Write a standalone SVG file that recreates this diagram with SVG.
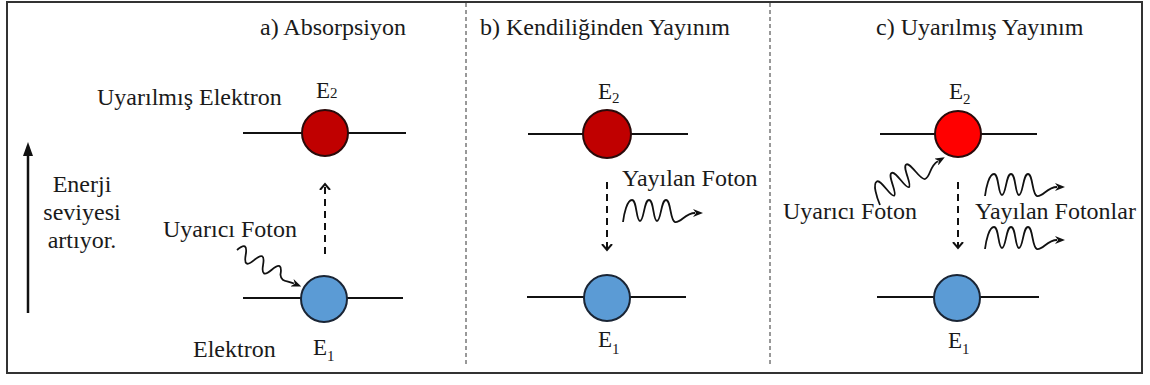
<svg xmlns="http://www.w3.org/2000/svg" xmlns:xlink="http://www.w3.org/1999/xlink" width="1150" height="385" viewBox="0 0 1150 385" font-family="'Liberation Serif', 'Times New Roman', 'DejaVu Serif', serif">
<style>
text{font-family:'Liberation Serif','Times New Roman','DejaVu Serif',serif;fill:#1a1a1a}
.t{font-size:24px}
.e{font-size:23px}
.s{font-size:15px}
.lvl{stroke:#111;stroke-width:2;fill:none}
.red{fill:#c00000;stroke:#2a0a0a;stroke-width:2}
.red2{fill:#ff0000;stroke:#2a0a0a;stroke-width:2}
.blue{fill:#5b9bd5;stroke:#1a2535;stroke-width:2}
.dash{stroke:#111;stroke-width:2;stroke-dasharray:7 5;fill:none;marker-end:url(#chev)}
.ph{stroke:#111;stroke-width:1.8;fill:none;marker-end:url(#ph)}
</style>
<defs>
<marker id="chev" viewBox="0 0 8 12" refX="6" refY="6" markerWidth="8" markerHeight="12" markerUnits="userSpaceOnUse" orient="auto">
<path d="M0,1 L6,6 L0,11" fill="none" stroke="#111" stroke-width="2" stroke-dasharray="none"/>
</marker>
<marker id="ph" viewBox="0 0 10 8" refX="2" refY="4" markerWidth="10" markerHeight="8" markerUnits="userSpaceOnUse" orient="auto">
<path d="M0,0 L10,4 L0,8 L3,4 z" fill="#111"/>
</marker>
<path id="wave" class="ph" d="M0,0 C1,-8 4,-22 9,-22 C14,-22 13,-1 17,-1 C21,-1 21,-22 26,-22 C31,-22 30,-1 34,-1 C38,-1 38,-22 43,-22 C48,-22 47,-1 52,0 C58,1 62,-9 72,-9"/>
<path id="wiggle" class="ph" d="M0,0 q5,-14 10,0 t10,0 t10,0 t10,0 t10,0 C54,6 58,2 66,1"/>
</defs>
<rect x="7" y="2" width="1135" height="371" fill="#fff" stroke="#333" stroke-width="2"/>
<g id="separators" stroke="#333" stroke-width="1" stroke-dasharray="4 3">
<line x1="466" y1="3" x2="466" y2="367"/>
<line x1="770" y1="3" x2="770" y2="367"/>
</g>
<g id="energy-axis">
<line x1="28" y1="313" x2="28" y2="154" stroke="#111" stroke-width="2.5"/>
<polygon points="28,142 23,156 33,156" fill="#111"/>
<text class="t" x="82" y="192" text-anchor="middle">Enerji</text>
<text class="t" x="82" y="220" text-anchor="middle">seviyesi</text>
<text class="t" x="82" y="248" text-anchor="middle">artıyor.</text>
</g>
<g id="panel-a">
<text class="t" x="260" y="35">a) Absorpsiyon</text>
<g id="a-E2">
<line class="lvl" x1="243" y1="133" x2="406" y2="133"/>
<circle class="red" cx="325" cy="133" r="23"/>
<text class="e" x="316" y="98">E<tspan class="s">2</tspan></text>
<text class="t" x="97" y="105">Uyarılmış Elektron</text>
</g>
<g id="a-E1">
<line class="lvl" x1="243" y1="298" x2="403" y2="298"/>
<circle class="blue" cx="324" cy="299" r="23"/>
<text class="e" x="313" y="355">E<tspan class="s" dy="6">1</tspan></text>
<text class="t" x="193" y="357">Elektron</text>
</g>
<text class="t" x="163" y="237">Uyarıcı Foton</text>
</g>
<g id="panel-b">
<text class="t" x="480" y="35">b) Kendiliğinden Yayınım</text>
<g id="b-E2">
<line class="lvl" x1="528" y1="134" x2="688" y2="134"/>
<circle class="red" cx="607" cy="134" r="24"/>
<text class="e" x="598" y="99">E<tspan class="s" dy="4">2</tspan></text>
</g>
<g id="b-E1">
<line class="lvl" x1="527" y1="297" x2="686" y2="297"/>
<circle class="blue" cx="607" cy="298" r="23"/>
<text class="e" x="598" y="347">E<tspan class="s" dy="7">1</tspan></text>
</g>
<text class="t" x="622" y="186">Yayılan Foton</text>
</g>
<g id="panel-c">
<text class="t" x="876" y="35">c) Uyarılmış Yayınım</text>
<g id="c-E2">
<line class="lvl" x1="880" y1="134" x2="1037" y2="134"/>
<circle class="red2" cx="958" cy="134" r="23"/>
<text class="e" x="949" y="99">E<tspan class="s" dy="5">2</tspan></text>
</g>
<g id="c-E1">
<line class="lvl" x1="877" y1="297" x2="1039" y2="297"/>
<circle class="blue" cx="957" cy="298" r="23"/>
<text class="e" x="948" y="348">E<tspan class="s" dy="6">1</tspan></text>
</g>
<text class="t" x="783" y="219">Uyarıcı Foton</text>
<text class="t" x="975" y="219">Yayılan Fotonlar</text>
</g>
<g id="connectors">
<path class="dash" d="M325,254 L325,184"/>
<path class="dash" d="M607,182 L607,250"/>
<path class="dash" d="M958,182 L958,248"/>
<use xlink:href="#wiggle" transform="translate(237,250) rotate(29.6)"/>
<use xlink:href="#wave" transform="translate(623,222)"/>
<use xlink:href="#wave" transform="translate(880,205) rotate(-30)"/>
<use xlink:href="#wave" transform="translate(985,196)"/>
<use xlink:href="#wave" transform="translate(985,249)"/>
</g>
</svg>
